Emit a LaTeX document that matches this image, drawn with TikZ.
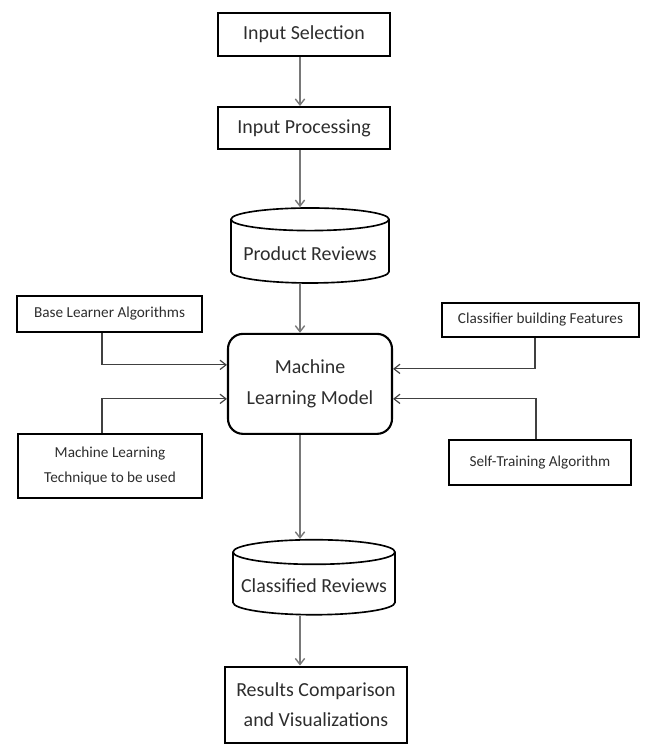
\documentclass[tikz,border=0pt]{standalone}
\usepackage{fontspec}
\setmainfont{Carlito}
\usepackage{tikz}
\usetikzlibrary{arrows.meta, positioning, shapes.geometric}
\definecolor{textgray}{RGB}{45,45,45}
\definecolor{linegray}{RGB}{120,120,120}

\begin{document}
\begin{tikzpicture}[
    font=\fontsize{17}{26}\selectfont,
    >={Straight Barb[length=1.8mm, width=2.8mm]},
    box_common/.style={draw=black, line width=1.8pt, align=center, text=textgray, inner sep=2pt},
    box_main/.style={box_common, minimum width=5.16cm, minimum height=1.29cm},
    box_side/.style={box_common, font=\fontsize{13}{21}\selectfont},
    box_store/.style={cylinder, shape border rotate=90, aspect=0.16, draw=black, line width=1.4pt, text=textgray, align=center, minimum width=4.74cm, minimum height=2.25cm},
    arrow/.style={->, line width=1.2pt, draw=linegray},
    arrow_side/.style={->, line width=1pt, draw=black!75}
]
\useasboundingbox (0,0) rectangle (19.38,-22.53);

% Main chain
\node[box_main] (inputsel) at (9.12,-1.035) {Input Selection};
\node[box_main, minimum height=1.26cm, below=1.47cm of inputsel] (inputproc) {Input Processing};
\node[box_store, below=1.71cm of inputproc, xshift=0.18cm] (prodrev) {Product Reviews};
\node[box_common, rounded corners=0.45cm, minimum width=4.92cm, minimum height=3.0cm, below=1.47cm of prodrev] (mlm) {Machine\\Learning Model};
\node[box_store, minimum width=4.86cm, below=3.12cm of mlm, xshift=0.12cm] (classrev) {Classified Reviews};
\node[box_main, minimum width=5.46cm, minimum height=2.28cm, below=1.5cm of classrev, xshift=0.06cm] (results) {Results Comparison\\and Visualizations};

% Side inputs
\node[box_side, minimum width=5.55cm, minimum height=1.08cm] (baselearn) at (3.285,-9.42) {Base Learner Algorithms};
\node[box_side, minimum width=5.52cm, minimum height=1.92cm] (mltech) at (3.3,-13.98) {Machine Learning\\Technique to be used};
\node[box_side, minimum width=5.91cm, minimum height=1.02cm] (classfeat) at (16.215,-9.6) {Classifier building Features};
\node[box_side, minimum width=5.46cm, minimum height=1.35cm] (selftrain) at (16.2,-13.875) {Self-Training Algorithm};

% Arrows
\coordinate (spine) at (9.0,0);
\draw[arrow] (inputsel.south -| spine) -- (inputproc.north -| spine);
\draw[arrow] (inputproc.south -| spine) -- (prodrev.north -| spine);
\draw[arrow] (prodrev.south -| spine) -- (mlm.north -| spine);
\draw[arrow] (mlm.south -| spine) -- (classrev.north -| spine);
\draw[arrow] (classrev.south -| spine) -- (results.north -| spine);

\draw[arrow_side] ([xshift=-0.225cm]baselearn.south) |- ([yshift=0.57cm]mlm.west);
\draw[arrow_side] ([xshift=-0.24cm]mltech.north) |- ([yshift=-0.45cm]mlm.west);
\draw[arrow_side] ([xshift=-0.165cm]classfeat.south) |- ([yshift=0.45cm]mlm.east);
\draw[arrow_side] ([xshift=-0.12cm]selftrain.north) |- ([yshift=-0.45cm]mlm.east);

\end{tikzpicture}
\end{document}
